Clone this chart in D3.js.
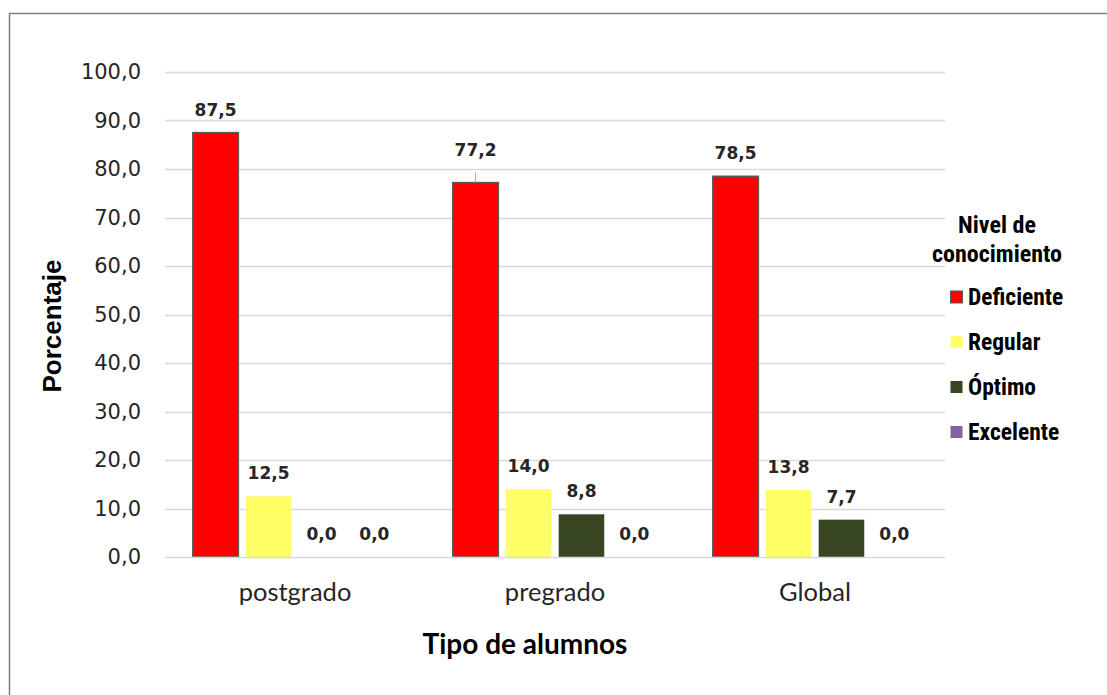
<!DOCTYPE html>
<html>
<head>
<meta charset="utf-8">
<script src="https://cdn.jsdelivr.net/npm/d3@7"></script>
<style>
  html, body { margin: 0; padding: 0; background: #fff; }
  svg { display: block; }
</style>
</head>
<body>
<svg id="chart" width="1107" height="695"></svg>
<script>
// Nivel de conocimiento por tipo de alumnos (%)
const categories = ["postgrado", "pregrado", "Global"];
const seriesNames = ["Deficiente", "Regular", "Óptimo", "Excelente"];
const deficiente = [87.5, 77.2, 78.5];
const regular = [12.5, 14.0, 13.8];
const optimo = [0.0, 8.8, 7.7];
const excelente = [0.0, 0.0, 0.0];
const yTicks = [0, 10, 20, 30, 40, 50, 60, 70, 80, 90, 100];

const seriesValues = [deficiente, regular, optimo, excelente];
const colors = ["#ff0000", "#ffff66", "#374520", "#8064a2"];
const strokes = ["#595959", "none", "none", "none"];

const svg = d3.select("#chart");
const fmt = v => v.toFixed(1).replace(".", ",");

// Frame
svg.append("path")
  .attr("d", "M9.5,695 L9.5,13.5 L1107,13.5")
  .attr("fill", "none").attr("stroke", "#7f7f7f").attr("stroke-width", 1.5);

const plot = { left: 165, right: 945, top: 72, bottom: 557 };

const x0 = d3.scaleBand().domain(categories)
  .range([plot.left, plot.right]).paddingInner(0.21).paddingOuter(0.105);
const x1 = d3.scaleBand().domain(seriesNames)
  .range([0, x0.bandwidth()]).paddingInner(0.12);
const y = d3.scaleLinear().domain([0, 100]).range([plot.bottom, plot.top]);

// Gridlines
svg.append("g").selectAll("line").data(yTicks.filter(t => t > 0)).join("line")
  .attr("x1", plot.left).attr("x2", plot.right)
  .attr("y1", d => Math.round(y(d)) + 0.5).attr("y2", d => Math.round(y(d)) + 0.5)
  .attr("stroke", "#d9d9d9").attr("stroke-width", 1.5);

// Y axis labels
const yAxis = d3.axisLeft(y).tickValues(yTicks).tickFormat(fmt).tickSize(0).tickPadding(0);
const gy = svg.append("g").attr("transform", `translate(141,0)`).call(yAxis);
gy.select(".domain").remove();
gy.selectAll("text")
  .attr("font-family", "DejaVu Sans, Verdana, sans-serif")
  .attr("font-size", 21).attr("fill", "#262626");

// Bars
const groups = svg.append("g").selectAll("g").data(categories).join("g")
  .attr("transform", d => `translate(${x0(d)},0)`);

groups.each(function(cat, ci) {
  const g = d3.select(this);
  seriesNames.forEach((s, si) => {
    const v = seriesValues[si][ci];
    const bx = x1(s);
    const bw = x1.bandwidth();
    if (v > 0) {
      g.append("rect")
        .attr("x", bx + 0.5).attr("y", y(v))
        .attr("width", bw - 1).attr("height", y(0) - y(v))
        .attr("fill", colors[si])
        .attr("stroke", strokes[si]).attr("stroke-width", 1.5);
    }
    // Value label, with a short leader where the label is lifted above its usual place
    const lift = (si === 0 && ci === 1) ? 10 : 0;
    const ly = y(v) - 17 - lift;
    if (lift) {
      g.append("line")
        .attr("x1", bx + bw / 2).attr("x2", bx + bw / 2)
        .attr("y1", y(v)).attr("y2", y(v) - lift)
        .attr("stroke", "#a6a6a6").attr("stroke-width", 1);
    }
    g.append("text")
      .attr("x", bx + bw / 2).attr("y", ly)
      .attr("text-anchor", "middle")
      .attr("font-family", "DejaVu Sans, Verdana, sans-serif")
      .attr("font-weight", "bold").attr("font-size", 17).attr("fill", "#262626")
      .text(fmt(v));
  });
});

// Baseline
svg.append("line")
  .attr("x1", plot.left).attr("x2", plot.right)
  .attr("y1", y(0) + 0.5).attr("y2", y(0) + 0.5)
  .attr("stroke", "#d9d9d9").attr("stroke-width", 1.5);

// Category labels
svg.append("g").selectAll("text").data(categories).join("text")
  .attr("x", d => x0(d) + x0.bandwidth() / 2).attr("y", 601)
  .attr("text-anchor", "middle")
  .attr("font-family", "Lato, Open Sans, sans-serif")
  .attr("font-size", 25.5).attr("fill", "#262626")
  .text(d => d);

// Axis titles
svg.append("text")
  .attr("x", 525).attr("y", 654).attr("text-anchor", "middle")
  .attr("font-family", "Lato, Open Sans, sans-serif")
  .attr("font-weight", "bold").attr("font-size", 28).attr("fill", "#000")
  .text("Tipo de alumnos");

svg.append("text")
  .attr("transform", "translate(61,326) rotate(-90)").attr("text-anchor", "middle")
  .attr("font-family", "Liberation Sans, Arial, sans-serif")
  .attr("font-weight", "bold").attr("font-size", 26).attr("fill", "#000")
  .text("Porcentaje");

// Legend
const legendFont = "Liberation Sans Narrow, Arial Narrow, Roboto Condensed, sans-serif";
const lg = svg.append("g");
lg.selectAll("text.title").data(["Nivel de", "conocimiento"]).join("text")
  .attr("class", "title")
  .attr("x", 997).attr("y", (d, i) => 233 + i * 29)
  .attr("text-anchor", "middle")
  .attr("font-family", legendFont).attr("font-weight", "bold")
  .attr("font-size", 24).attr("fill", "#000")
  .text(d => d);

const items = lg.selectAll("g.item").data(seriesNames).join("g")
  .attr("class", "item")
  .attr("transform", (d, i) => `translate(950,${297 + i * 45})`);
items.append("rect")
  .attr("x", 0.5).attr("y", -6).attr("width", 12).attr("height", 12)
  .attr("fill", (d, i) => colors[i])
  .attr("stroke", (d, i) => strokes[i]).attr("stroke-width", 1);
items.append("text")
  .attr("x", 18).attr("y", 8)
  .attr("font-family", legendFont).attr("font-weight", "bold")
  .attr("font-size", 23.5).attr("fill", "#000")
  .text(d => d);
</script>
</body>
</html>
